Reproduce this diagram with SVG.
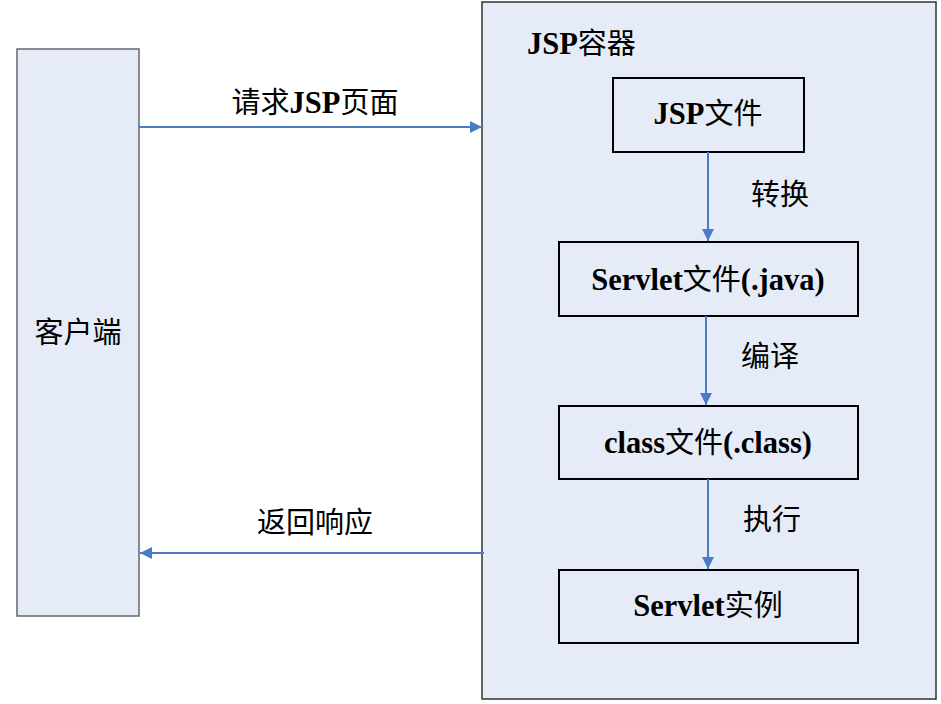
<svg xmlns="http://www.w3.org/2000/svg" width="941" height="704" viewBox="0 0 941 704">
<defs>
<marker id="ah" viewBox="0 0 12 12" refX="12" refY="6" markerWidth="12" markerHeight="12" markerUnits="userSpaceOnUse" orient="auto">
<path d="M0,0 L12,6 L0,12 z" fill="#4a7bc4"/>
</marker>
<style>
.t{font-family:"Liberation Serif","Noto Sans CJK SC",serif;font-size:29px;fill:#000;text-anchor:middle}
.b{font-weight:bold;font-size:30.5px}
.box{fill:#e6ecf7;stroke:#000;stroke-width:2}
.c{stroke:#4a7bc4;stroke-width:2;fill:none;marker-end:url(#ah)}
</style>
</defs>
<rect width="941" height="704" fill="#fff"/>
<g id="client">
<rect x="17" y="49" width="122" height="567" fill="#e6ecf7" stroke="#666" stroke-width="1.5"/>
<text class="t" x="78" y="343">客户端</text>
</g>
<g id="container">
<rect x="482" y="2" width="454" height="697" fill="#e6ecf7" stroke="#333" stroke-width="1.5"/>
<text class="t" x="527" y="54" style="text-anchor:start"><tspan class="b">JSP</tspan>容器</text>
</g>
<g id="jspfile">
<rect class="box" x="613" y="78" width="191" height="74"/>
<text class="t" x="708" y="124"><tspan class="b">JSP</tspan>文件</text>
</g>
<g id="servletjava">
<rect class="box" x="559" y="242" width="299" height="74"/>
<text class="t" x="708" y="290"><tspan class="b">Servlet</tspan>文件<tspan class="b">(.java)</tspan></text>
</g>
<g id="classfile">
<rect class="box" x="559" y="406" width="299" height="73"/>
<text class="t" x="708" y="453"><tspan class="b">class</tspan>文件<tspan class="b">(.class)</tspan></text>
</g>
<g id="servletinst">
<rect class="box" x="559" y="570" width="299" height="73"/>
<text class="t" x="708" y="616"><tspan class="b">Servlet</tspan>实例</text>
</g>
<g id="connectors">
<line class="c" x1="139" y1="127" x2="482" y2="127"/>
<line class="c" x1="484" y1="553" x2="140" y2="553"/>
<line class="c" x1="708" y1="152" x2="708" y2="241"/>
<line class="c" x1="706" y1="316" x2="706" y2="405"/>
<line class="c" x1="708" y1="479" x2="708" y2="569"/>
<text class="t" x="315" y="113">请求<tspan class="b">JSP</tspan>页面</text>
<text class="t" x="315" y="533">返回响应</text>
<text class="t" x="780" y="205">转换</text>
<text class="t" x="770" y="367">编译</text>
<text class="t" x="772" y="530">执行</text>
</g>
</svg>
